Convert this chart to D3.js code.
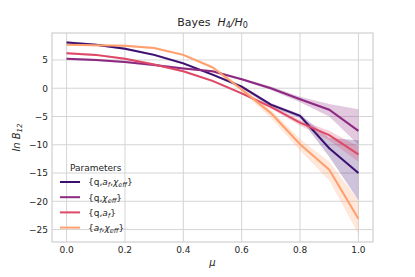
<!DOCTYPE html>
<html>
<head>
<meta charset="utf-8">
<script src="https://cdn.jsdelivr.net/npm/d3@7"></script>
<style>
body{margin:0;background:#fff;}
text{font-family:"DejaVu Sans",sans-serif;fill:#262626;}
</style>
</head>
<body>
<svg id="chart" width="415" height="277"></svg>
<script>
width = 415;
height = 277;

// data
mu = [0.0, 0.1, 0.2, 0.3, 0.4, 0.5, 0.6, 0.7, 0.8, 0.9, 1.0];
xTicks = [0.0, 0.2, 0.4, 0.6, 0.8, 1.0];
yTicks = [5, 0, -5, -10, -15, -20, -25];

qAfChi    = [8.1, 7.7, 7.0, 5.9, 4.4, 2.4, 0.3, -2.9, -4.9, -10.6, -15.0];
qAfChiLo  = [7.9, 7.5, 6.8, 5.7, 4.2, 2.2, 0.0, -3.3, -5.3, -12.1, -19.8];
qAfChiHi  = [8.3, 7.9, 7.2, 6.1, 4.6, 2.6, 0.5, -2.6, -4.6, -8.8, -9.2];

qChi      = [5.2, 5.0, 4.65, 4.1, 3.5, 3.0, 1.6, 0.0, -1.95, -3.8, -7.55];
qChiLo    = [5.0, 4.8, 4.45, 3.9, 3.3, 2.8, 1.4, -0.3, -2.5, -5.0, -10.0];
qChiHi    = [5.4, 5.2, 4.85, 4.3, 3.7, 3.2, 1.8, 0.3, -1.5, -2.8, -3.7];

qAf       = [6.2, 5.9, 5.2, 4.2, 3.0, 1.3, -0.9, -3.3, -6.1, -8.3, -11.7];
qAfLo     = [6.0, 5.7, 5.0, 4.0, 2.8, 1.1, -1.1, -3.6, -6.6, -9.2, -13.0];
qAfHi     = [6.4, 6.1, 5.4, 4.4, 3.2, 1.5, -0.7, -3.0, -5.6, -7.5, -10.3];

afChi     = [7.7, 7.6, 7.5, 7.1, 5.9, 3.7, -0.2, -4.4, -9.9, -14.4, -23.1];
afChiLo   = [7.5, 7.4, 7.3, 6.9, 5.7, 3.4, -0.6, -5.2, -11.0, -16.3, -25.8];
afChiHi   = [7.9, 7.8, 7.7, 7.3, 6.1, 4.0, 0.2, -3.8, -9.0, -13.0, -19.8];

seriesColors = ['#3b0f70', '#8c2981', '#de4968', '#fe9f6d'];

series = [
	{mean: qAfChi, lo: qAfChiLo, hi: qAfChiHi, label: [['{q,'], ['a', 'i'], ['f', 'sub'], [','], ['χ', 'i'], ['eff', 'sub'], ['}']]},
	{mean: qChi, lo: qChiLo, hi: qChiHi, label: [['{q,'], ['χ', 'i'], ['eff', 'sub'], ['}']]},
	{mean: qAf, lo: qAfLo, hi: qAfHi, label: [['{q,'], ['a', 'i'], ['f', 'sub'], ['}']]},
	{mean: afChi, lo: afChiLo, hi: afChiHi, label: [['{'], ['a', 'i'], ['f', 'sub'], [','], ['χ', 'i'], ['eff', 'sub'], ['}']]}
];

left = 52; right = 373; top_ = 33; bottom = 242;

const svg = d3.select('#chart');
const x = d3.scaleLinear().domain([-0.05, 1.05]).range([left, right]);
const y = d3.scaleLinear().domain([-27.2, 9.77]).range([bottom, top_]);

// grid
svg.append('g').selectAll('line').data(xTicks).join('line')
	.attr('x1', d => x(d)).attr('x2', d => x(d))
	.attr('y1', top_).attr('y2', bottom)
	.attr('stroke', '#d5d5d5').attr('stroke-width', 1);
svg.append('g').selectAll('line').data(yTicks).join('line')
	.attr('x1', left).attr('x2', right)
	.attr('y1', d => y(d)).attr('y2', d => y(d))
	.attr('stroke', '#d5d5d5').attr('stroke-width', 1);

// bands and lines
const area = d3.area().x((d, i) => x(mu[i])).y0(d => y(d[0])).y1(d => y(d[1]));
const line = d3.line().x((d, i) => x(mu[i])).y(d => y(d));

series.forEach((s, k) => {
	svg.append('path')
		.datum(s.lo.map((v, i) => [v, s.hi[i]]))
		.attr('d', area)
		.attr('fill', seriesColors[k])
		.attr('fill-opacity', 0.25)
		.attr('stroke', 'none');
});
series.forEach((s, k) => {
	svg.append('path')
		.datum(s.mean)
		.attr('d', line)
		.attr('fill', 'none')
		.attr('stroke', seriesColors[k])
		.attr('stroke-width', 2);
});

// frame
svg.append('rect')
	.attr('x', left).attr('y', top_)
	.attr('width', right - left).attr('height', bottom - top_)
	.attr('fill', 'none').attr('stroke', '#cfcfcf').attr('stroke-width', 1.2);

// tick labels
svg.append('g').selectAll('text').data(xTicks).join('text')
	.attr('x', d => x(d)).attr('y', 253)
	.attr('text-anchor', 'middle').attr('font-size', 9)
	.text(d => d3.format('.1f')(d));
svg.append('g').selectAll('text').data(yTicks).join('text')
	.attr('x', left - 4).attr('y', d => y(d) + 3.3)
	.attr('text-anchor', 'end').attr('font-size', 9)
	.text(d => d3.format('d')(d).replace('-', '\u2212'));

// axis labels
svg.append('text')
	.attr('x', x(0.5)).attr('y', 266)
	.attr('text-anchor', 'middle').attr('font-size', 10)
	.attr('font-style', 'italic').text('μ');

const yl = svg.append('text')
	.attr('transform', `translate(20, ${(top_ + bottom) / 2}) rotate(-90)`)
	.attr('text-anchor', 'middle').attr('font-size', 10)
	.attr('font-style', 'italic');
yl.append('tspan').text('ln B');
yl.append('tspan').attr('font-size', 7).attr('dy', 2).text('12');

// title
const title = svg.append('text')
	.attr('x', (left + right) / 2).attr('y', 26)
	.attr('text-anchor', 'middle').attr('font-size', 11);
title.append('tspan').text('Bayes');
title.append('tspan').attr('font-style', 'italic').attr('dx', 7).text('H');
title.append('tspan').attr('font-size', 8).attr('dy', 2).text('4');
title.append('tspan').attr('font-style', 'italic').attr('dy', -2).text('/H');
title.append('tspan').attr('font-size', 8).attr('dy', 2).text('0');

// legend
svg.append('text')
	.attr('x', 70).attr('y', 171)
	.attr('font-size', 9).text('Parameters');
series.forEach((s, k) => {
	const ly = 182 + k * 15.2;
	svg.append('line')
		.attr('x1', 60).attr('x2', 80)
		.attr('y1', ly).attr('y2', ly)
		.attr('stroke', seriesColors[k]).attr('stroke-width', 2);
	const t = svg.append('text')
		.attr('x', 88).attr('y', ly + 3.3)
		.attr('font-size', 9);
	let shifted = false;
	s.label.forEach(p => {
		const ts = t.append('tspan').text(p[0]);
		if (p[1] === 'i') ts.attr('font-style', 'italic');
		if (p[1] === 'sub') {
			ts.attr('font-style', 'italic').attr('font-size', 6.5);
			if (!shifted) { ts.attr('dy', 2); shifted = true; }
		} else if (shifted) {
			ts.attr('dy', -2); shifted = false;
		}
	});
});
</script>
</body>
</html>
